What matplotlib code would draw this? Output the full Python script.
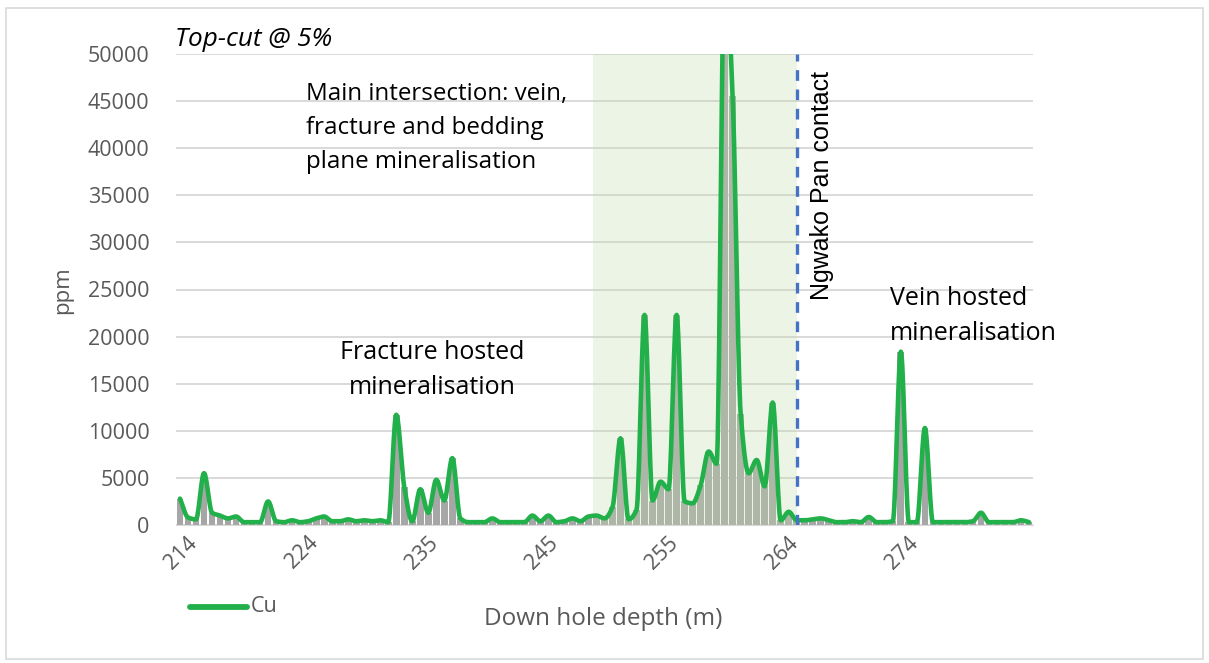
import matplotlib
matplotlib.use('Agg')
import matplotlib.pyplot as plt
import matplotlib.transforms as mtransforms
import numpy as np
from matplotlib.patches import Rectangle
from matplotlib.lines import Line2D

# ---------------- data ----------------
cu_ppm = [2800, 800, 600, 5500, 1300, 1000, 700, 900, 300, 300,
          300, 2500, 400, 300, 500, 300, 400, 700, 900, 400,
          400, 600, 400, 500, 400, 500, 300, 11700, 4000, 400,
          3800, 1300, 4800, 2600, 7100, 700, 300, 300, 300, 700,
          300, 300, 300, 300, 1000, 400, 1000, 300, 400, 700,
          400, 900, 1000, 700, 1900, 9200, 600, 1600, 22300, 2600,
          4600, 3800, 22300, 2500, 2300, 4200, 7800, 6500, 60000, 45500,
          11800, 5500, 6900, 4100, 13000, 500, 1400, 500, 500, 600,
          700, 500, 300, 300, 400, 300, 850, 300, 300, 400,
          18400, 300, 300, 10300, 300, 300, 300, 300, 300, 400,
          1300, 300, 300, 300, 300, 500, 300]
tick_labels = ['214', '224', '235', '245', '255', '264', '274']
tick_every = 15
y_ticks = list(range(0, 50001, 5000))

# ---------------- layout helpers ----------------
W, H = 1209, 663
fig = plt.figure(figsize=(W / 100, H / 100), dpi=100)
def fx(px): return px / W
def fy(py): return 1 - py / H

FONT = 'Open Sans'
GREY_TXT = '#595959'
GREEN = '#22b04b'

# outer chart border
fig.add_artist(Rectangle((fx(6), fy(659)), fx(1203) - fx(6), fy(8) - fy(659),
                         transform=fig.transFigure, fill=False,
                         edgecolor='#d9d9d9', lw=1.2))

ax = fig.add_axes([fx(176), fy(525), fx(1033) - fx(176), fy(54) - fy(525)])

n = len(cu_ppm)
x = np.arange(n)
cu = np.array(cu_ppm, dtype=float)

# grey columns
ax.bar(x, np.minimum(cu, 50000), width=0.84, color='#a6a6a6',
       lw=0, zorder=2)

# shaded main intersection (semi-transparent, tints grid and columns)
span_start, span_end = 51.6, 77.0
ax.axvspan(span_start, span_end, color='#c3dcab', alpha=0.3, lw=0, zorder=2.5)

# smoothed line: monotone cubic through the data points
def monotone_smooth(xs, ys, k=16):
    xs = np.asarray(xs, float); ys = np.asarray(ys, float)
    h = np.diff(xs)
    d = np.diff(ys) / h
    m = np.zeros_like(ys)
    m[0], m[-1] = d[0], d[-1]
    for i in range(1, len(ys) - 1):
        if d[i-1] * d[i] <= 0:
            m[i] = 0.0
        else:
            m[i] = 2.0 / (1.0 / d[i-1] + 1.0 / d[i])
    ox, oy = [], []
    t = np.linspace(0, 1, k, endpoint=False)
    for i in range(len(xs) - 1):
        h00 = 2*t**3 - 3*t**2 + 1; h10 = t**3 - 2*t**2 + t
        h01 = -2*t**3 + 3*t**2;    h11 = t**3 - t**2
        ox.append(xs[i] + t * h[i])
        oy.append(h00*ys[i] + h10*h[i]*m[i] + h01*ys[i+1] + h11*h[i]*m[i+1])
    ox.append([xs[-1]]); oy.append([ys[-1]])
    return np.concatenate(ox), np.concatenate(oy)

sx, sy = monotone_smooth(x, cu)
ax.plot(sx, sy, color=GREEN, lw=3.3, solid_joinstyle='round',
        solid_capstyle='round', zorder=3)

# contact line
ax.axvline(span_end, color='#4472c4', lw=2.4, ls=(0, (3.2, 2.6)), zorder=4)

ax.set_xlim(-0.5, n - 0.5)
ax.set_ylim(0, 50000)
ax.set_yticks(y_ticks)
ax.set_yticklabels([str(v) for v in y_ticks], fontsize=15.5, color=GREY_TXT,
                   family=FONT)
ax.tick_params(axis='y', length=0, pad=19)
ticks = [i * tick_every for i in range(len(tick_labels))]
ax.set_xticks(ticks)
ax.set_xticklabels(tick_labels, rotation=45, ha='right', va='top',
                   rotation_mode='anchor', fontsize=15.5, color=GREY_TXT,
                   family=FONT)
ax.tick_params(axis='x', length=0, pad=6)
shift = mtransforms.ScaledTranslation(7 / 100, 1 / 100, fig.dpi_scale_trans)
for lab in ax.get_xticklabels():
    lab.set_transform(lab.get_transform() + shift)
ax.yaxis.grid(True, color='#d9d9d9', lw=1.4, zorder=0.5)
ax.set_axisbelow(True)
for s in ['left', 'top', 'right']:
    ax.spines[s].set_visible(False)
ax.spines['bottom'].set_color('#d9d9d9')

# axis titles
fig.text(fx(63), fy(290), 'ppm', rotation=90, ha='center', va='center',
         fontsize=16, color=GREY_TXT, family=FONT)
fig.text(fx(603), fy(619), 'Down hole depth (m)', ha='center', va='center',
         fontsize=17.5, color=GREY_TXT, family=FONT)

# legend
fig.add_artist(Line2D([fx(190), fx(247)], [fy(607), fy(607)],
                      transform=fig.transFigure, color=GREEN, lw=4.2,
                      solid_capstyle='round'))
fig.text(fx(251), fy(606), 'Cu', ha='left', va='center', fontsize=15.5,
         color=GREY_TXT, family=FONT)

# annotations
fig.text(fx(175), fy(40), 'Top-cut @ 5%', ha='left', va='center',
         fontsize=18.8, style='italic', color='black', family=FONT)
fig.text(fx(306), fy(128), 'Main intersection: vein,\nfracture and bedding\nplane mineralisation',
         ha='left', va='center', fontsize=17.4, linespacing=1.55, color='black',
         family=FONT)
fig.text(fx(432), fy(370), 'Fracture hosted\nmineralisation', ha='center',
         va='center', fontsize=18, linespacing=1.5, color='black', family=FONT)
fig.text(fx(890), fy(316), 'Vein hosted\nmineralisation', ha='left',
         va='center', fontsize=18, linespacing=1.5, color='black', family=FONT)
fig.text(fx(822), fy(186), 'Ngwako Pan contact', rotation=90, ha='center',
         va='center', fontsize=18, color='black', family='Liberation Sans')

fig.savefig('out.png', dpi=100)
